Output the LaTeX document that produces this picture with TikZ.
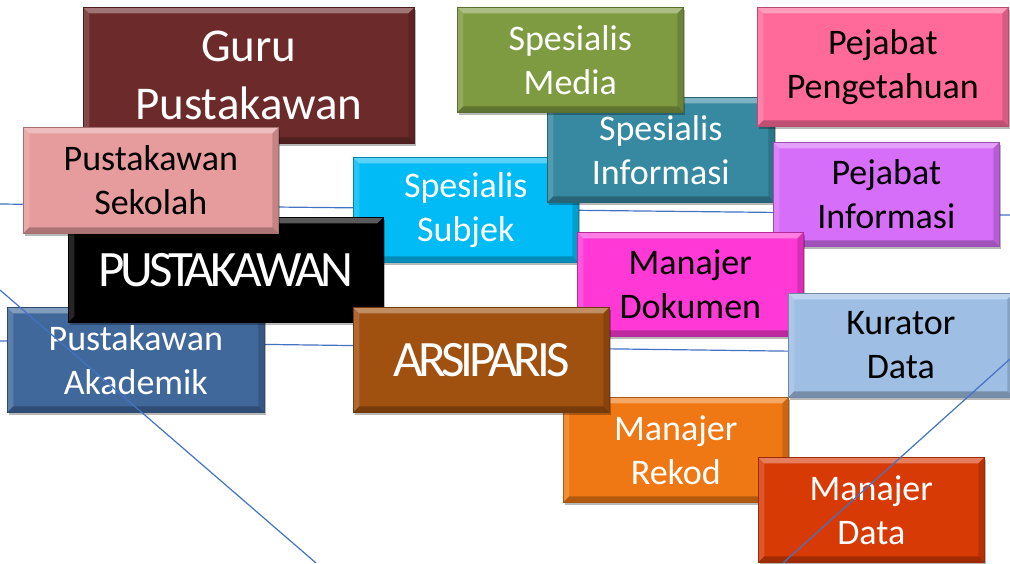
\documentclass[tikz,border=0pt]{standalone}
\usepackage{fontspec}
\setmainfont{Carlito}
\newfontfamily\condfont[LetterSpace=-8]{Carlito}
\usetikzlibrary{shadows}
\definecolor{cGuru}{HTML}{6C2A2A}
\definecolor{cMedia}{HTML}{7E9B41}
\definecolor{cPeng}{HTML}{FF6A9A}
\definecolor{cInfo}{HTML}{3689A0}
\definecolor{cSekolah}{HTML}{E69C9C}
\definecolor{cSubjek}{HTML}{00BBF5}
\definecolor{cPejInfo}{HTML}{D66EFA}
\definecolor{cPust}{HTML}{000000}
\definecolor{cDok}{HTML}{FF38D6}
\definecolor{cAkad}{HTML}{40689B}
\definecolor{cArsip}{HTML}{A0500F}
\definecolor{cKur}{HTML}{9EBEE4}
\definecolor{cRekod}{HTML}{F07814}
\definecolor{cMData}{HTML}{D83A06}
\definecolor{cLine}{HTML}{4472C4}
\tikzset{
  tile/.style 2 args={draw=#1!72!black, line width=0.6pt, fill=#1, text=#2,
    inner sep=0pt, align=center, anchor=north west,
    font=\fontsize{36}{44}\selectfont,
    drop shadow={shadow xshift=2pt, shadow yshift=-3pt, opacity=0.28, fill=black},
    path picture={
      \fill[white,opacity=0.35] (path picture bounding box.north west) -- (path picture bounding box.north east)
        -- ([xshift=-6pt,yshift=-6pt]path picture bounding box.north east)
        -- ([xshift=6pt,yshift=-6pt]path picture bounding box.north west) -- cycle;
      \fill[white,opacity=0.15] (path picture bounding box.north west) -- ([xshift=6pt,yshift=-6pt]path picture bounding box.north west)
        -- ([xshift=6pt,yshift=6pt]path picture bounding box.south west)
        -- (path picture bounding box.south west) -- cycle;
      \fill[black,opacity=0.15] (path picture bounding box.north east) -- ([xshift=-6pt,yshift=-6pt]path picture bounding box.north east)
        -- ([xshift=-6pt,yshift=6pt]path picture bounding box.south east)
        -- (path picture bounding box.south east) -- cycle;
      \fill[black,opacity=0.25] (path picture bounding box.south west) -- (path picture bounding box.south east)
        -- ([xshift=-6pt,yshift=6pt]path picture bounding box.south east)
        -- ([xshift=6pt,yshift=6pt]path picture bounding box.south west) -- cycle;
    }},
  linkline/.style={draw=cLine, line width=1.2pt}
}
\begin{document}
\begin{tikzpicture}[x=1pt,y=-1pt]
\useasboundingbox[fill=white] (0,0) rectangle (1010,563);
% line end points
\coordinate (h1a) at (0,204);
\coordinate (h1b) at (1010,215);
\coordinate (h2a) at (0,341);
\coordinate (h2b) at (1010,354);
\coordinate (d1a) at (0,290);
\coordinate (d1b) at (316,563);
\coordinate (d2a) at (783,563);
\coordinate (d2b) at (1010,359);
\draw[linkline] (h1a) -- (h1b);
\draw[linkline] (h2a) -- (h2b);
% boxes, back to front
\node[tile={cGuru}{white}, minimum width=331pt, minimum height=136pt, font=\fontsize{47}{58}\selectfont] (guru) at (83,7) {Guru\\Pustakawan};
\node[tile={cAkad}{white}, minimum width=257pt, minimum height=105pt] (akad) at (7,307) {Pustakawan\\Akademik};
\node[tile={cSubjek}{white}, minimum width=225pt, minimum height=105pt] (subjek) at (353,157) {Spesialis\\Subjek};
\node[tile={cPust}{white}, minimum width=315pt, minimum height=105pt, font=\condfont\fontsize{51}{60}\selectfont] (pust) at (68,217) {PUSTAKAWAN};
\node[tile={cSekolah}{black}, minimum width=255pt, minimum height=106pt] (sekolah) at (23,127) {Pustakawan\\Sekolah};
\node[tile={cInfo}{white}, minimum width=227pt, minimum height=105pt] (info) at (547,97) {Spesialis\\Informasi};
\node[tile={cMedia}{white}, minimum width=226pt, minimum height=105pt] (media) at (457,7) {Spesialis\\Media};
\node[tile={cPeng}{black}, minimum width=251pt, minimum height=119pt] (peng) at (757,7) {Pejabat\\Pengetahuan};
\node[tile={cPejInfo}{black}, minimum width=226pt, minimum height=104pt] (pejinfo) at (773,142) {Pejabat\\Informasi};
\node[tile={cDok}{black}, minimum width=226pt, minimum height=104pt] (dok) at (577,232) {Manajer\\Dokumen};
\node[tile={cRekod}{white}, minimum width=225pt, minimum height=105pt] (rekod) at (563,397) {Manajer\\Rekod};
\node[tile={cArsip}{white}, minimum width=256pt, minimum height=105pt, font=\condfont\fontsize{51}{60}\selectfont] (arsip) at (353,307) {ARSIPARIS};
\node[tile={cKur}{black}, minimum width=225pt, minimum height=104pt] (kur) at (788,293) {Kurator\\Data};
\node[tile={cMData}{white}, minimum width=226pt, minimum height=105pt] (mdata) at (758,457) {Manajer\\Data};
% diagonal lines on top
\draw[linkline] (d1a) -- (d1b);
\draw[linkline] (d2a) -- (d2b);
\end{tikzpicture}
\end{document}
